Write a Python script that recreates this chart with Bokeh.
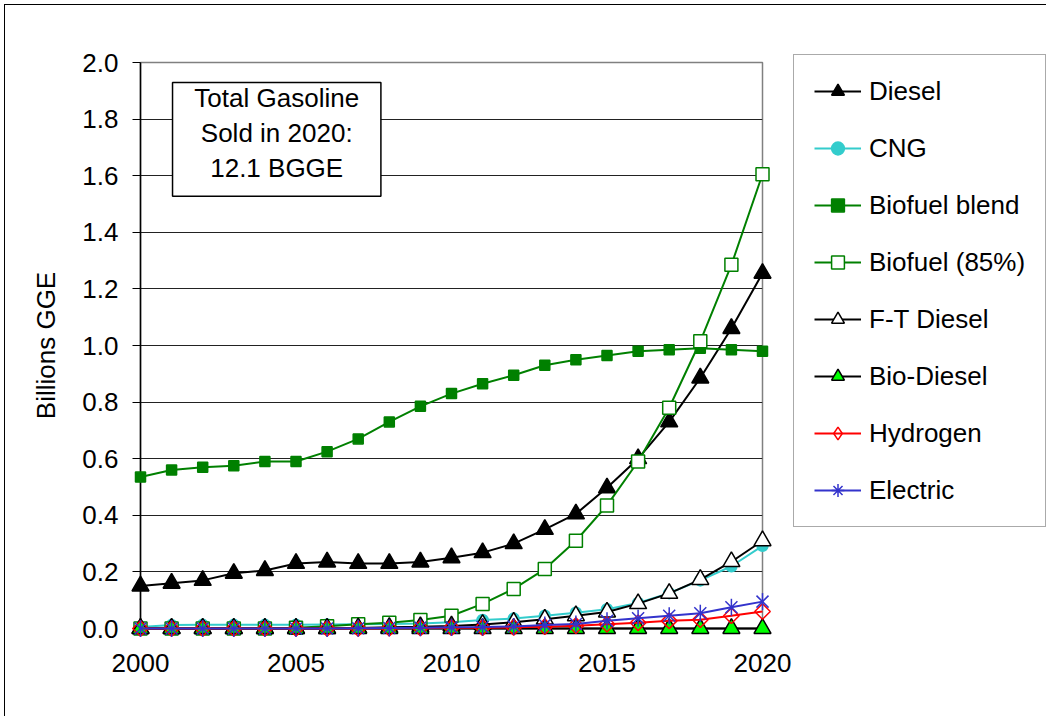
import math
from bokeh.plotting import figure
from bokeh.models import (Range1d, FixedTicker, PrintfTickFormatter, Legend, LegendItem,
                          BoxAnnotation, Label)
from bokeh.embed import file_html
from bokeh.resources import INLINE

years = list(range(2000, 2021))
diesel = [0.15, 0.16, 0.17, 0.195, 0.205, 0.23, 0.235, 0.23, 0.23, 0.235, 0.25,
          0.268, 0.30, 0.35, 0.405, 0.497, 0.60, 0.73, 0.885, 1.06, 1.255]
cng = [0.005, 0.012, 0.013, 0.013, 0.013, 0.013, 0.014, 0.015, 0.016, 0.018, 0.022,
       0.03, 0.035, 0.045, 0.056, 0.068, 0.09, 0.125, 0.17, 0.22, 0.292]
biofuel_blend = [0.535, 0.56, 0.57, 0.575, 0.59, 0.59, 0.625, 0.67, 0.73, 0.785, 0.83,
                 0.865, 0.895, 0.93, 0.95, 0.965, 0.98, 0.985, 0.99, 0.985, 0.98]
biofuel_85 = [0.0, 0.0, 0.0, 0.0, 0.0, 0.003, 0.008, 0.015, 0.02, 0.03, 0.045,
              0.087, 0.14, 0.21, 0.31, 0.435, 0.59, 0.78, 1.015, 1.285, 1.605]
ft_diesel = [0.0, 0.0, 0.0, 0.0, 0.0, 0.0, 0.0, 0.002, 0.004, 0.006, 0.009,
             0.014, 0.022, 0.033, 0.045, 0.058, 0.088, 0.124, 0.173, 0.236, 0.31]
bio_diesel = [0.0] * 21
hydrogen = [0.0, 0.0, 0.0, 0.0, 0.0, 0.0, 0.0, 0.0, 0.001, 0.002, 0.003,
            0.003, 0.004, 0.006, 0.01, 0.015, 0.02, 0.027, 0.031, 0.045, 0.06]
electric = [0.0, 0.0, 0.0, 0.0, 0.0, 0.0, 0.0, 0.001, 0.002, 0.003, 0.004,
            0.005, 0.007, 0.012, 0.016, 0.027, 0.036, 0.045, 0.054, 0.075, 0.095]

FONT = "Liberation Sans"
FS = "26px"

p = figure(frame_width=622, frame_height=566, width=1038, height=711,
           x_range=Range1d(2000, 2020), y_range=Range1d(0, 2.0),
           output_backend="svg", toolbar_location=None,
           min_border_left=135, min_border_top=57, min_border_right=281, min_border_bottom=88)
p.styles = {"border-left": "1px solid #000", "border-top": "1px solid #000",
            "margin-left": "4px", "margin-top": "4px"}
p.background_fill_color = "white"
p.border_fill_color = "white"
p.outline_line_color = "#808080"
p.outline_line_width = 1.5

p.xgrid.visible = False
p.ygrid.grid_line_color = "#222222"
p.ygrid.grid_line_width = 1

p.xaxis.ticker = FixedTicker(ticks=[2000, 2005, 2010, 2015, 2020])
p.xaxis.major_tick_out = 0
p.xaxis.major_tick_in = 0
p.xaxis.minor_tick_out = 0
p.xaxis.minor_tick_in = 0
p.xaxis.major_label_standoff = 25
p.yaxis.ticker = FixedTicker(ticks=[0.0, 0.2, 0.4, 0.6, 0.8, 1.0, 1.2, 1.4, 1.6, 1.8, 2.0])
p.yaxis.formatter = PrintfTickFormatter(format="%.1f")
p.yaxis.major_tick_out = 8
p.yaxis.major_tick_in = 0
p.yaxis.minor_tick_out = 0
p.yaxis.minor_tick_in = 0
p.yaxis.major_label_standoff = 14
p.yaxis.axis_label = "Billions GGE"
p.yaxis.axis_label_standoff = 18
for ax in (p.xaxis[0], p.yaxis[0]):
    ax.axis_line_color = "black"
    ax.axis_line_width = 1.5
    ax.major_tick_line_color = "black"
    ax.major_label_text_font = FONT
    ax.major_label_text_font_size = FS
    ax.major_label_text_color = "black"
    ax.axis_label_text_font = FONT
    ax.axis_label_text_font_size = FS
    ax.axis_label_text_font_style = "normal"
    ax.axis_label_text_color = "black"

items = []
# legend-only marker positions, far outside the visible canvas
off_x = [2010]
off_y = [-5.0]

def series(label, ys, color, marker, size, fill, mline, kind=None):
    r_line = p.line(years, ys, line_color=color, line_width=2, level="overlay")
    rs = [r_line]
    if kind == "diamond":
        p.scatter(years, ys, marker="square", size=size, angle=math.pi / 4,
                  line_color=mline, fill_color="white", fill_alpha=0,
                  line_width=1.5, level="overlay")
        rs.append(p.scatter(off_x, off_y, marker="diamond", size=size, line_color=mline,
                            fill_color="white", fill_alpha=0, line_width=1.5))
    elif kind == "star":
        p.scatter(years, ys, marker="x", size=size, line_color=mline,
                  line_width=1.5, level="overlay")
        p.scatter(years, ys, marker="dash", size=size, angle=math.pi / 2,
                  line_color=mline, line_width=1.5, level="overlay")
        rs.append(p.scatter(off_x, off_y, marker="asterisk", size=size,
                            line_color=mline, line_width=1.5))
    else:
        rs.append(p.scatter(years, ys, marker=marker, size=size, line_color=mline,
                            fill_color=fill, line_width=1.5, level="overlay"))
    items.append(LegendItem(label=label, renderers=rs))

series("Diesel", diesel, "black", "triangle", 17, "black", "black")
series("CNG", cng, "#33CCCC", "circle", 11, "#33CCCC", "#33CCCC")
series("Biofuel blend", biofuel_blend, "#008000", "square", 10, "#008000", "#008000")
series("Biofuel (85%)", biofuel_85, "#008000", "square", 13, "white", "#008000")
series("F-T Diesel", ft_diesel, "black", "triangle", 17, "white", "black")
series("Bio-Diesel", bio_diesel, "black", "triangle", 17, "#00FF00", "black")
series("Hydrogen", hydrogen, "#FF0000", None, 11, None, "#FF0000", kind="diamond")
series("Electric", electric, "#3333CC", None, 17, None, "#3333CC", kind="star")

legend = Legend(items=items, location=(31, 101))
legend.margin = 0
legend.padding = 20
legend.spacing = 25
legend.glyph_width = 47
legend.glyph_height = 32
legend.label_height = 32
legend.label_standoff = 8
legend.label_text_font = FONT
legend.label_text_font_size = FS
legend.label_text_color = "black"
legend.border_line_color = "#555555"
legend.border_line_width = 1.5
legend.background_fill_color = "white"
legend.background_fill_alpha = 1
p.add_layout(legend, "right")

box = BoxAnnotation(left=2001.03, right=2007.73, bottom=1.527, top=1.929,
                    fill_color="white", fill_alpha=1, line_color="black", line_alpha=1,
                    line_width=1.5, level="annotation")
p.add_layout(box)
lab = Label(x=2004.38, y=1.75, text="Total Gasoline\nSold in 2020:\n12.1 BGGE",
            text_align="center", text_baseline="middle", text_font=FONT,
            text_font_size=FS, text_color="black", text_line_height=1.17)
p.add_layout(lab)

open("out.html", "w").write(file_html(p, INLINE))
